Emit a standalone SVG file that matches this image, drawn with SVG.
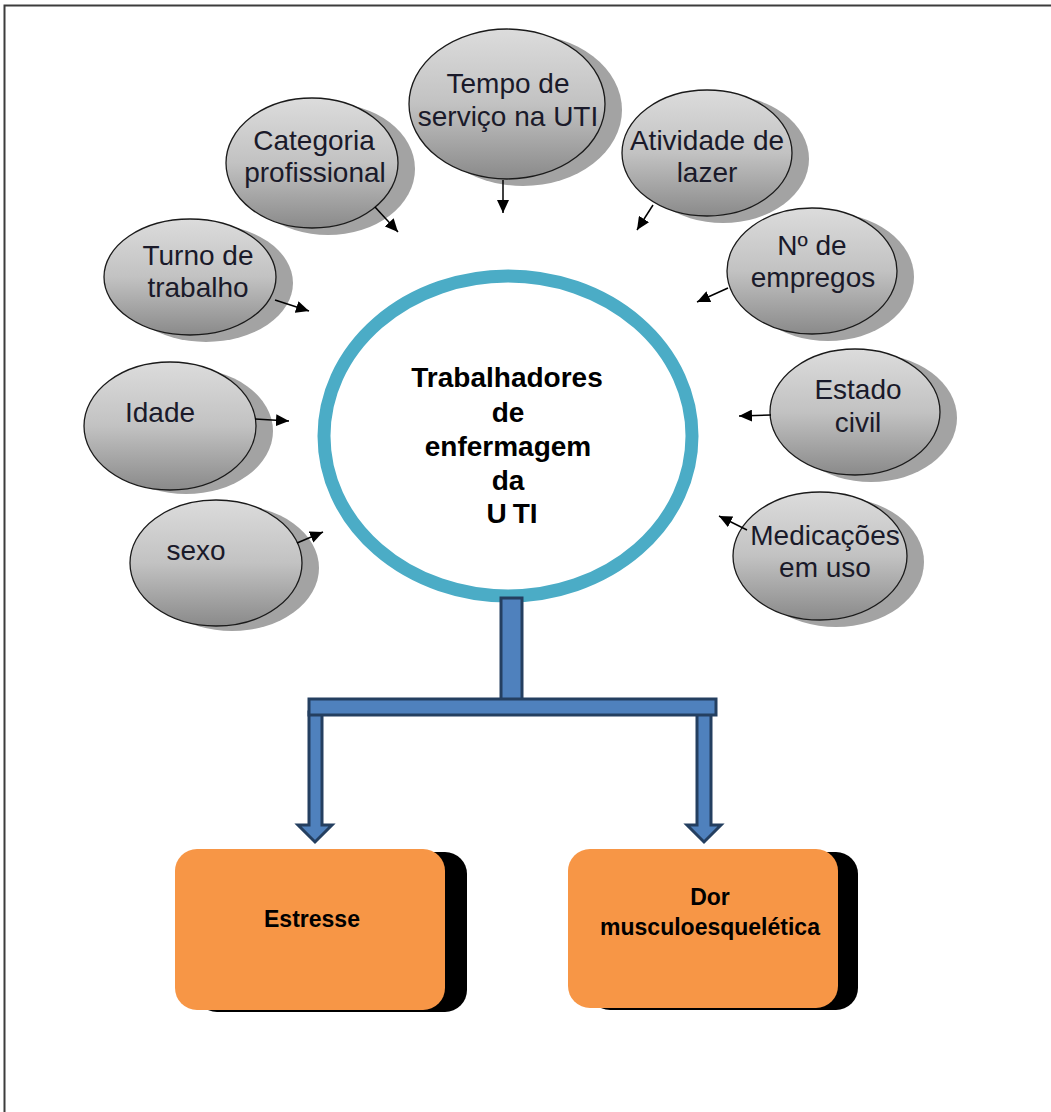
<svg xmlns="http://www.w3.org/2000/svg" width="1051" height="1112" viewBox="0 0 1051 1112">
<defs>
<linearGradient id="gEl" x1="0" y1="0" x2="0" y2="1">
<stop offset="0" stop-color="#dcdcdc"/>
<stop offset="0.5" stop-color="#c2c2c2"/>
<stop offset="1" stop-color="#8a8a8a"/>
</linearGradient>
<marker id="ah" markerUnits="userSpaceOnUse" markerWidth="14" markerHeight="12" refX="13" refY="6" orient="auto">
<path d="M0,0 L13,6 L0,12 Z" fill="#000"/>
</marker>
<style>
.sh{fill:#a3a3a3}
.el{fill:url(#gEl);stroke:#1a1a1a;stroke-width:1.3}
.t{font-family:"Liberation Sans",Arial,sans-serif;font-size:28px;fill:#1a1a2a;text-anchor:middle}
.ct{font-family:"Liberation Sans",Arial,sans-serif;font-size:28px;font-weight:bold;fill:#000;text-anchor:middle}
.bt{font-family:"Liberation Sans",Arial,sans-serif;font-size:23px;font-weight:bold;fill:#000;text-anchor:middle}
.ar{stroke:#000;stroke-width:1.5;fill:none;marker-end:url(#ah)}
.blue{fill:#4F81BD;stroke:#243F60;stroke-width:3}
.box{fill:#F79646}
.boxsh{fill:#000}
</style>
</defs>
<rect x="0" y="0" width="1051" height="1112" fill="#fff"/>
<rect x="4.5" y="5.5" width="1100" height="1200" fill="none" stroke="#3c3c3c" stroke-width="2"/>

<g id="node-tempo">
<ellipse class="sh" cx="523" cy="110" rx="99" ry="76"/>
<ellipse class="el" cx="507" cy="104" rx="98" ry="75"/>
<text class="t" x="508" y="93">Tempo de</text>
<text class="t" x="508" y="126">serviço na UTI</text>
</g>
<g id="node-categoria">
<ellipse class="sh" cx="328" cy="169" rx="87" ry="66"/>
<ellipse class="el" cx="312" cy="163" rx="86" ry="65"/>
<text class="t" x="314" y="150">Categoria</text>
<text class="t" x="315" y="182">profissional</text>
</g>
<g id="node-turno">
<ellipse class="sh" cx="206" cy="283" rx="87" ry="59"/>
<ellipse class="el" cx="190" cy="277" rx="86" ry="58"/>
<text class="t" x="198" y="265">Turno de</text>
<text class="t" x="198" y="297">trabalho</text>
</g>
<g id="node-idade">
<ellipse class="sh" cx="186" cy="431" rx="87" ry="63"/>
<ellipse class="el" cx="170" cy="426" rx="86" ry="64"/>
<text class="t" x="160" y="422">Idade</text>
</g>
<g id="node-sexo">
<ellipse class="sh" cx="232" cy="568" rx="87" ry="63"/>
<ellipse class="el" cx="216" cy="563" rx="86" ry="63"/>
<text class="t" x="196" y="560">sexo</text>
</g>
<g id="node-atividade">
<ellipse class="sh" cx="723" cy="159" rx="86" ry="64"/>
<ellipse class="el" cx="707" cy="153" rx="85" ry="63"/>
<text class="t" x="707" y="150">Atividade de</text>
<text class="t" x="707" y="182">lazer</text>
</g>
<g id="node-empregos">
<ellipse class="sh" cx="828" cy="277" rx="86" ry="64"/>
<ellipse class="el" cx="812" cy="271" rx="85" ry="63"/>
<text class="t" x="812" y="255">Nº de</text>
<text class="t" x="813" y="287">empregos</text>
</g>
<g id="node-estado">
<ellipse class="sh" cx="871" cy="418" rx="86" ry="64"/>
<ellipse class="el" cx="855" cy="412" rx="85" ry="63"/>
<text class="t" x="858" y="399">Estado</text>
<text class="t" x="858" y="432">civil</text>
</g>
<g id="node-medicacoes">
<ellipse class="sh" cx="836" cy="562" rx="88" ry="65"/>
<ellipse class="el" cx="820" cy="556" rx="87" ry="64"/>
<text class="t" x="825" y="545">Medicações</text>
<text class="t" x="825" y="577">em uso</text>
</g>

<g id="node-centro">
<ellipse cx="508" cy="436" rx="184" ry="160" fill="#fff" stroke="#4BACC6" stroke-width="13"/>
<text class="ct" x="507" y="387">Trabalhadores</text>
<text class="ct" x="508" y="422">de</text>
<text class="ct" x="508" y="456">enfermagem</text>
<text class="ct" x="508" y="490">da</text>
<text class="ct" x="512" y="523">U<tspan dx="6">TI</tspan></text>
</g>

<g id="connectors">
<line class="ar" x1="503" y1="180" x2="503" y2="213"/>
<line class="ar" x1="375" y1="207" x2="398" y2="232"/>
<line class="ar" x1="275" y1="300" x2="309" y2="311"/>
<line class="ar" x1="255" y1="419" x2="289" y2="421"/>
<line class="ar" x1="297" y1="543" x2="323" y2="532"/>
<line class="ar" x1="653" y1="205" x2="637" y2="230"/>
<line class="ar" x1="728" y1="288" x2="697" y2="302"/>
<line class="ar" x1="771" y1="415" x2="739" y2="416"/>
<line class="ar" x1="747" y1="530" x2="719" y2="516"/>
<g id="tree">
<rect class="blue" x="501" y="598" width="21" height="102"/>
<path class="blue" d="M309,712 L322,712 L322,825 L332,825 L315,842 L298,825 L309,825 Z"/>
<path class="blue" d="M697,712 L711,712 L711,825 L721,825 L704,842 L687,825 L697,825 Z"/>
<rect class="blue" x="309" y="699" width="407" height="16"/>
</g>
</g>

<g id="node-estresse">
<rect class="boxsh" x="195" y="852" width="272" height="160" rx="22"/>
<rect class="box" x="175" y="849" width="270" height="161" rx="22"/>
<text class="bt" x="312" y="927">Estresse</text>
</g>
<g id="node-dor">
<rect class="boxsh" x="588" y="852" width="270" height="158" rx="22"/>
<rect class="box" x="568" y="849" width="270" height="159" rx="22"/>
<text class="bt" x="710" y="905">Dor</text>
<text class="bt" x="710" y="935">musculoesquelética</text>
</g>
</svg>
